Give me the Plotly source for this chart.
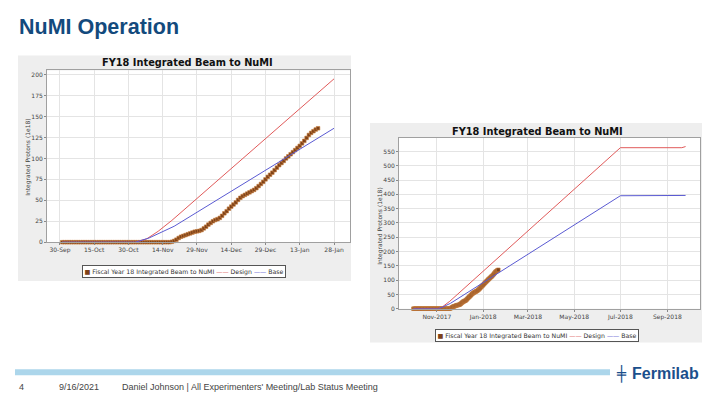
import pandas as pd
import plotly.graph_objects as go

W, H = 720, 405

# ---------------- data ----------------
actual_start = "2017-10-01"
actual_values = [
    0, 0, 0, 0, 0, 0, 0, 0, 0, 0, 0, 0, 0, 0, 0, 0,
    0, 0, 0, 0, 0, 0, 0, 0, 0, 0, 0, 0, 0, 0, 0,          # Oct
    0, 0, 0, 0, 0, 0, 0, 0, 0, 0, 0, 0, 0, 0, 0, 0, 0,    # Nov 1-17
    0.5, 1.5, 3, 5, 6.5, 7.5, 8.5, 9.5, 10.5, 11.5, 12.5, 13, 13.5,   # Nov 18-30
    14.5, 16.5, 18.5, 21, 23, 25, 26.5, 27.5, 29, 31.5, 34.5, 37, 40, 42.5, 45,
    47.5, 50.5, 53, 55, 56.5, 58, 59.5, 61, 62.5, 64.5, 67, 69.5, 72, 75, 78, 80.5,  # Dec
    83, 86, 89, 92, 94.5, 97, 100, 102.5, 105, 107.5, 110, 112.5, 115, 118, 121,
    124.5, 128, 130.5, 132.5, 134.5, 136,                 # Jan 1-21
]
actual_dates = pd.date_range(actual_start, periods=len(actual_values), freq="D")

design_dates = ["2017-10-01", "2017-11-02", "2017-11-07", "2017-11-12", "2017-11-18",
                "2018-07-01", "2018-09-20", "2018-09-25"]
design_values = [0, 0, 4, 13, 26, 563, 563, 567]

base_dates = ["2017-10-01", "2017-11-02", "2017-11-08", "2017-11-14", "2017-11-19",
              "2018-07-01", "2018-09-25"]
base_values = [0, 0, 5, 13, 19, 395, 396]

# chart 1 shows the plans only up to 28-Jan (values read at that date)
c1_end = "2018-01-28"
c1_design_end_value = 195
c1_base_end_value = 136

c1_tick_dates = ["2017-09-30", "2017-10-15", "2017-10-30", "2017-11-14", "2017-11-29",
                 "2017-12-14", "2017-12-29", "2018-01-13", "2018-01-28"]
c1_tick_labels = ["30-Sep", "15-Oct", "30-Oct", "14-Nov", "29-Nov",
                  "14-Dec", "29-Dec", "13-Jan", "28-Jan"]
c1_yticks = [0, 25, 50, 75, 100, 125, 150, 175, 200]

c2_tick_dates = ["2017-11-01", "2018-01-01", "2018-03-01", "2018-05-01", "2018-07-01", "2018-09-01"]
c2_tick_labels = ["Nov-2017", "Jan-2018", "Mar-2018", "May-2018", "Jul-2018", "Sep-2018"]
c2_yticks = [0, 50, 100, 150, 200, 250, 300, 350, 400, 450, 500, 550]

chart_title = "FY18 Integrated Beam to NuMI"
y_title = "Integrated Protons (1e18)"
series_names = ["Fiscal Year 18 Integrated Beam to NuMI", "Design", "Base"]

# ---------------- colours ----------------
RED = "#e05a5a"
BLUE = "#5a5ad2"
BROWN = "#7e4219"
BROWN_EDGE = "#c9803f"
PANEL = "#eeeeee"
TICKC = "#444444"
GRID = "#e4e4e4"


def px(x):
    return x / W


def py(y):
    return 1 - y / H


fig = go.Figure()

d1 = pd.DataFrame({"d": pd.to_datetime(design_dates), "v": design_values})
b1 = pd.DataFrame({"d": pd.to_datetime(base_dates), "v": base_values})
end_ts = pd.Timestamp(c1_end)
design_c1_dates = list(d1[d1["d"] <= end_ts]["d"]) + [end_ts]
design_c1_values = list(d1[d1["d"] <= end_ts]["v"]) + [c1_design_end_value]
base_c1_dates = list(b1[b1["d"] <= end_ts]["d"]) + [end_ts]
base_c1_values = list(b1[b1["d"] <= end_ts]["v"]) + [c1_base_end_value]

for xa, ya, dd, dv, bd, bv in [
    ("x", "y", design_c1_dates, design_c1_values, base_c1_dates, base_c1_values),
    ("x2", "y2", design_dates, design_values, base_dates, base_values),
]:
    fig.add_trace(go.Scatter(
        x=actual_dates, y=actual_values, xaxis=xa, yaxis=ya,
        mode="lines+markers", name=series_names[0], showlegend=False,
        line=dict(color=BROWN, width=1.5),
        marker=dict(symbol="square", size=3.6, color=BROWN,
                    line=dict(color=BROWN_EDGE, width=0.6)),
        cliponaxis=False,
    ))
    fig.add_trace(go.Scatter(
        x=dd, y=dv, xaxis=xa, yaxis=ya, mode="lines", name=series_names[1],
        showlegend=False, line=dict(color=RED, width=1),
    ))
    fig.add_trace(go.Scatter(
        x=bd, y=bv, xaxis=xa, yaxis=ya, mode="lines", name=series_names[2],
        showlegend=False, line=dict(color=BLUE, width=1),
    ))

tickfont = dict(family="DejaVu Sans", size=6, color=TICKC)
common_x = dict(type="date", tickmode="array", tickfont=tickfont, ticks="outside",
                ticklen=2, tickcolor="#888888", showgrid=True, gridcolor=GRID, gridwidth=1,
                showline=True, linecolor="#a0a0a0", linewidth=1, mirror=True,
                zeroline=False, fixedrange=True)
common_y = dict(tickmode="array", tickfont=tickfont, ticks="outside", ticklen=2,
                tickcolor="#888888", showgrid=True, gridcolor=GRID, gridwidth=1,
                showline=True, linecolor="#a0a0a0", linewidth=1, mirror=True,
                zeroline=False, fixedrange=True)

fig.update_layout(
    width=W, height=H, margin=dict(l=0, r=0, t=0, b=0),
    paper_bgcolor="white", plot_bgcolor="rgba(0,0,0,0)",
    showlegend=False,
    xaxis=dict(domain=[px(47), px(350)], anchor="y",
               range=["2017-09-24 08:00", "2018-02-04"],
               tickvals=c1_tick_dates, ticktext=c1_tick_labels, **common_x),
    yaxis=dict(domain=[py(244), py(71)], anchor="x", range=[0, 205],
               tickvals=c1_yticks, ticktext=[str(v) for v in c1_yticks], **common_y),
    xaxis2=dict(domain=[px(399), px(700)], anchor="y2",
                range=["2017-09-12", "2018-10-14"],
                tickvals=c2_tick_dates, ticktext=c2_tick_labels, **common_x),
    yaxis2=dict(domain=[py(311), py(139)], anchor="x2", range=[0, 597],
                tickvals=c2_yticks, ticktext=[str(v) for v in c2_yticks], **common_y),
)

shapes = [
    dict(type="rect", xref="paper", yref="paper", x0=px(18), x1=px(351), y0=py(283), y1=py(56),
         fillcolor=PANEL, line=dict(width=0), layer="below"),
    dict(type="rect", xref="paper", yref="paper", x0=px(370), x1=px(702), y0=py(345), y1=py(124),
         fillcolor=PANEL, line=dict(width=0), layer="below"),
    dict(type="rect", xref="x domain", yref="y domain", x0=0, x1=1, y0=0, y1=1,
         fillcolor="white", line=dict(width=0), layer="below"),
    dict(type="rect", xref="x2 domain", yref="y2 domain", x0=0, x1=1, y0=0, y1=1,
         fillcolor="white", line=dict(width=0), layer="below"),
    dict(type="rect", xref="paper", yref="paper", x0=px(15), x1=px(610), y0=py(378), y1=py(372),
         fillcolor="#acd6eb", line=dict(width=0), layer="below"),
]
fig.update_layout(shapes=shapes)

legend_text = (f'<span style="color:{BROWN}">■</span> {series_names[0]} '
               f'<span style="color:{RED}">——</span> {series_names[1]} '
               f'<span style="color:{BLUE}">——</span> {series_names[2]}')

ann = [
    dict(text="<b>NuMI Operation</b>", x=px(17), y=py(27.5), xanchor="left", yanchor="middle",
         font=dict(family="Liberation Sans", size=21.5, color="#134a7d")),
    dict(text=f"<b>{chart_title}</b>", x=px(187), y=py(63), xanchor="center", yanchor="middle",
         font=dict(family="DejaVu Sans", size=9.8, color="#111111")),
    dict(text=f"<b>{chart_title}</b>", x=px(537), y=py(132), xanchor="center", yanchor="middle",
         font=dict(family="DejaVu Sans", size=9.8, color="#111111")),
    dict(text=y_title, x=px(28), y=py(158), textangle=-90, xanchor="center", yanchor="middle",
         font=dict(family="DejaVu Sans", size=6, color="#444444")),
    dict(text=y_title, x=px(380.5), y=py(228), textangle=-90, xanchor="center", yanchor="middle",
         font=dict(family="DejaVu Sans", size=6, color="#444444")),
    dict(text=legend_text, x=px(184.5), y=py(273.5), xanchor="center", yanchor="middle",
         font=dict(family="DejaVu Sans", size=6.2, color="#333333"),
         bgcolor="white", bordercolor="#555555", borderwidth=1, borderpad=1.5),
    dict(text=legend_text, x=px(537), y=py(338.5), xanchor="center", yanchor="middle",
         font=dict(family="DejaVu Sans", size=6.2, color="#333333"),
         bgcolor="white", bordercolor="#555555", borderwidth=1, borderpad=1.5),
    dict(text="4", x=px(17), y=py(390), xanchor="left", yanchor="middle",
         font=dict(family="Liberation Sans", size=9, color="#444444")),
    dict(text="9/16/2021", x=px(57), y=py(390), xanchor="left", yanchor="middle",
         font=dict(family="Liberation Sans", size=9, color="#444444")),
    dict(text="Daniel Johnson | All Experimenters' Meeting/Lab Status Meeting", x=px(120), y=py(390),
         xanchor="left", yanchor="middle",
         font=dict(family="Liberation Sans", size=9, color="#444444")),
    dict(text="╪", x=px(614), y=py(376), xanchor="left", yanchor="middle",
         font=dict(family="DejaVu Sans Mono", size=15, color="#1b4f8c")),
    dict(text="<b>Fermilab</b>", x=px(630), y=py(376), xanchor="left", yanchor="middle",
         font=dict(family="Liberation Sans", size=16, color="#1b4f8c")),
]
fig.update_layout(annotations=[dict(a, xref="paper", yref="paper", showarrow=False) for a in ann])

fig.write_html("out.html")
